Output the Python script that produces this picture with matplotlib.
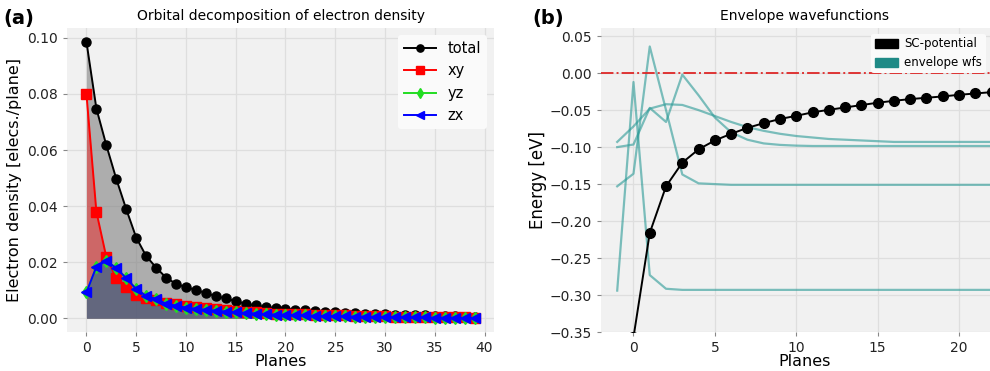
import numpy as np
import matplotlib.pyplot as plt
from matplotlib.patches import Patch

# ---- panel (a): orbital decomposition ----
planes = np.arange(40)
total = [0.0986, 0.0748, 0.0617, 0.0497, 0.0389, 0.0288, 0.0222, 0.0181, 0.0145, 0.0123,
         0.0111, 0.0101, 0.0090, 0.0079, 0.0071, 0.0061, 0.0052, 0.0046, 0.0040, 0.0036,
         0.0034, 0.0031, 0.0029, 0.0026, 0.0024, 0.0022, 0.0020, 0.0018, 0.0017, 0.0015,
         0.0014, 0.0013, 0.0012, 0.0011, 0.0010, 0.0009, 0.0008, 0.0007, 0.0006, 0.0005]
xy = [0.0800, 0.0380, 0.0218, 0.0143, 0.0111, 0.0083, 0.0072, 0.0066, 0.0055, 0.0050,
      0.0045, 0.0040, 0.0036, 0.0032, 0.0029, 0.0026, 0.0023, 0.0021, 0.0019, 0.0017,
      0.0016, 0.0015, 0.0014, 0.0013, 0.0012, 0.0011, 0.0010, 0.0009, 0.0008, 0.0008,
      0.0007, 0.0006, 0.0006, 0.0005, 0.0005, 0.0004, 0.0004, 0.0003, 0.0003, 0.0002]
zx = [0.0092, 0.0184, 0.0205, 0.0179, 0.0143, 0.0104, 0.0080, 0.0069, 0.0052, 0.0045,
      0.0038, 0.0034, 0.0030, 0.0027, 0.0024, 0.0021, 0.0019, 0.0017, 0.0015, 0.0013,
      0.0012, 0.0011, 0.0010, 0.0009, 0.0008, 0.0007, 0.0007, 0.0006, 0.0006, 0.0005,
      0.0005, 0.0004, 0.0004, 0.0003, 0.0003, 0.0002, 0.0002, 0.0002, 0.0001, 0.0001]
yz = list(zx)

# ---- panel (b): envelope wavefunctions ----
sc_x = np.arange(0, 24)
sc_pot = [-0.357, -0.216, -0.153, -0.121, -0.103, -0.091, -0.082, -0.074, -0.0676, -0.062,
          -0.0577, -0.053, -0.0496, -0.0464, -0.0432, -0.040, -0.0374, -0.0351, -0.0333,
          -0.0315, -0.0293, -0.0275, -0.0257, -0.0240]
wf_x = np.arange(-1, 24)
wf_1 = [-0.294, -0.012, -0.273, -0.2915] + [-0.293] * 21
wf_2 = [-0.153, -0.136, 0.036, -0.050, -0.137, -0.149, -0.150] + [-0.151] * 18
wf_3 = [-0.100, -0.0965, -0.047, -0.066, -0.002, -0.030, -0.060, -0.080, -0.090, -0.095,
        -0.097, -0.098] + [-0.0985] * 13
wf_4 = [-0.093, -0.072, -0.048, -0.042, -0.043, -0.050, -0.058, -0.066, -0.073, -0.078,
        -0.082, -0.085, -0.087, -0.089, -0.090, -0.091, -0.092] + [-0.093] * 8

bg = '#f1f1f1'
gridc = '#dedede'
plt.rcParams['font.family'] = 'DejaVu Sans'

fig = plt.figure(figsize=(9.9, 3.71), dpi=100)
ax1 = fig.add_axes([0.0677, 0.105, 0.4313, 0.8195])
ax2 = fig.add_axes([0.607, 0.105, 0.411, 0.8195])

for ax in (ax1, ax2):
    ax.set_facecolor(bg)
    ax.grid(True, color=gridc, linewidth=0.9)
    ax.set_axisbelow(True)
    for s in ax.spines.values():
        s.set_visible(False)
    ax.tick_params(labelsize=10, length=3, color='#888888', labelcolor='#222222')

series = [('total', total, 'black', 'o', 'gray', 0.6),
          ('xy', xy, 'red', 's', 'red', 0.4),
          ('yz', yz, '#22dd22', 'd', 'lime', 0.3),
          ('zx', zx, 'blue', '<', 'blue', 0.3)]
for name, vals, col, mk, fcol, fa in series:
    ax1.plot(planes, vals, color=col, marker=mk, markersize=6.5, linewidth=1.4,
             label=name)
    ax1.fill_between(planes, vals, color=fcol, alpha=fa, linewidth=0)
ax1.set_xticks(np.arange(0, 41, 5))
ax1.set_xlim(-1.95, 40.95)
ax1.set_ylim(-0.0049, 0.1035)
ax1.set_yticks([0.0, 0.02, 0.04, 0.06, 0.08, 0.10])
ax1.set_yticklabels(['0.00', '0.02', '0.04', '0.06', '0.08', '0.10'])
ax1.set_xlabel('Planes', fontsize=11.5, labelpad=-1)
ax1.set_ylabel('Electron density [elecs./plane]', fontsize=11.5, labelpad=4)
ax1.set_title('Orbital decomposition of electron density', fontsize=10, pad=6)
ax1.legend(loc='upper right', fontsize=10.5, handlelength=2.2,
           facecolor='#fafafa', edgecolor='none', framealpha=1, markerscale=0.8)

teal = '#2a9a96'
for wf in (wf_1, wf_2, wf_3, wf_4):
    ax2.plot(wf_x, wf, color=teal, alpha=0.6, linewidth=1.6)
ax2.axhline(0.0, color='#dd2222', linestyle='-.', linewidth=1.4, alpha=0.9)
ax2.plot(sc_x, sc_pot, color='black', marker='o', markersize=7, linewidth=1.4)
ax2.set_xlim(-2, 23)
ax2.set_ylim(-0.35, 0.061)
ax2.set_xticks([0, 5, 10, 15, 20])
ax2.set_yticks(np.arange(-0.35, 0.051, 0.05))
ax2.set_yticklabels(['\u22120.35', '\u22120.30', '\u22120.25', '\u22120.20', '\u22120.15',
                     '\u22120.10', '\u22120.05', '0.00', '0.05'])
ax2.set_xlabel('Planes', fontsize=11.5, labelpad=-1)
ax2.set_ylabel('Energy [eV]', fontsize=12, labelpad=2)
ax2.set_title('Envelope wavefunctions', fontsize=10, pad=6)
handles = [Patch(color='black'), Patch(color='#1f8a86')]
ax2.legend(handles, ['SC-potential', 'envelope wfs'], loc='upper left',
           bbox_to_anchor=(0.65, 1.0), fontsize=8.5, facecolor='#fafafa',
           edgecolor='none', framealpha=1, handlelength=2.0, handleheight=0.8,
           handletextpad=0.5, borderpad=0.3)

fig.text(0.003, 0.935, '(a)', fontsize=14, fontweight='bold')
fig.text(0.538, 0.935, '(b)', fontsize=14, fontweight='bold')

fig.savefig('out.png', dpi=100)
